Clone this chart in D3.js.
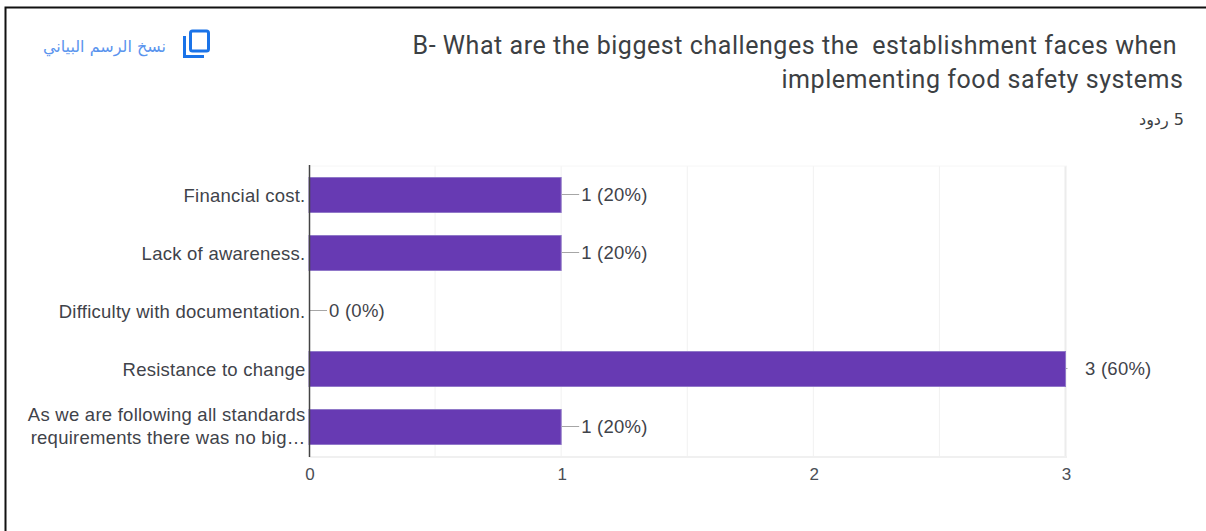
<!DOCTYPE html>
<html>
<head>
<meta charset="utf-8">
<script src="https://cdn.jsdelivr.net/npm/d3@7"></script>
<style>
  html, body { margin: 0; padding: 0; background: #fff; overflow: hidden; }
  svg { display: block; }
</style>
</head>
<body>
<div id="d3-div"></div>
<script>
var categories = [
  "Financial cost.",
  "Lack of awareness.",
  "Difficulty with documentation.",
  "Resistance to change",
  "As we are following all standards|requirements there was no big\u2026"
];
var counts = [1, 1, 0, 3, 1];
var percents = [20, 20, 0, 60, 20];
var xTicks = [0, 1, 2, 3];
var xGrid = [0.5, 1, 1.5, 2, 2.5, 3];
var titleLines = [
  "B- What are the biggest challenges the  establishment faces when",
  "implementing food safety systems"
];
var responsesText = "5 \u0631\u062F\u0648\u062F";
var copyText = "\u0646\u0633\u062E \u0627\u0644\u0631\u0633\u0645 \u0627\u0644\u0628\u064A\u0627\u0646\u064A";

var width = 1206, height = 531;
var labelFont = "Liberation Sans, Arial, sans-serif";
var titleFont = "Roboto, sans-serif";
var labelSize = 18.5, labelSpacing = 0.25;

var svg = d3.select("#d3-div").append("svg")
  .attr("width", width)
  .attr("height", height);

svg.append("rect").attr("width", width).attr("height", height).attr("fill", "#fff");

// screenshot frame, top and left only
svg.append("path")
  .attr("d", "M5.5,531V7.5H1206")
  .attr("fill", "none")
  .attr("stroke", "#111")
  .attr("stroke-width", 2);

var xScale = d3.scaleLinear().domain([0, 3]).range([309, 1065.5]);
var yScale = d3.scaleBand()
  .domain(categories)
  .range([166, 456])
  .paddingInner(0.38)
  .paddingOuter(0.19);

// grid
svg.append("g").selectAll("line")
  .data(xGrid)
  .enter()
  .append("line")
  .attr("x1", d => xScale(d))
  .attr("x2", d => xScale(d))
  .attr("y1", 166)
  .attr("y2", 457)
  .attr("stroke", d => d == 3 ? "#ececec" : "#f1f1f1")
  .attr("stroke-width", d => d == 3 ? 2 : 1);

svg.append("line")
  .attr("x1", 309.5).attr("x2", 1067)
  .attr("y1", 457).attr("y2", 457)
  .attr("stroke", "#f0f0f0").attr("stroke-width", 2);
svg.append("line")
  .attr("x1", 309.5).attr("x2", 1067)
  .attr("y1", 166).attr("y2", 166)
  .attr("stroke", "#f6f6f6");

// bars, the light edge comes from the blurred screenshot
svg.append("g").selectAll("rect")
  .data(counts)
  .enter()
  .append("rect")
  .attr("x", xScale(0))
  .attr("y", (d, i) => yScale(categories[i]) + 0.5)
  .attr("width", d => xScale(d) - xScale(0))
  .attr("height", yScale.bandwidth() - 1)
  .attr("fill", "#673ab3")
  .attr("stroke", d => d > 0 ? "#9078c8" : "none");

// leader lines and value labels
var mid = i => yScale(categories[i]) + yScale.bandwidth() / 2;

svg.append("g").selectAll("line")
  .data(counts)
  .enter()
  .append("line")
  .attr("x1", d => xScale(d) + 0.5)
  .attr("x2", d => xScale(d) + (d == 3 ? 2 : 18))
  .attr("y1", (d, i) => mid(i) - 0.5)
  .attr("y2", (d, i) => mid(i) - 0.5)
  .attr("stroke", "#a6a6a6");

svg.append("g").selectAll("text")
  .data(counts)
  .enter()
  .append("text")
  .attr("x", d => xScale(d) + (d == 3 ? 19.5 : 20))
  .attr("y", (d, i) => mid(i) + 5.5)
  .attr("font-family", labelFont)
  .attr("font-size", labelSize)
  .attr("letter-spacing", labelSpacing)
  .attr("fill", "#3f434a")
  .text((d, i) => d + " (" + percents[i] + "%)");

// category labels
svg.append("g").selectAll("text")
  .data(categories)
  .enter()
  .append("text")
  .attr("text-anchor", "end")
  .attr("font-family", labelFont)
  .attr("font-size", labelSize)
  .attr("letter-spacing", labelSpacing)
  .attr("fill", "#3f434a")
  .each(function(d, i) {
    var lines = d.split("|");
    var y0 = lines.length > 1 ? mid(i) - 6.5 : mid(i) + 6.5;
    d3.select(this).selectAll("tspan")
      .data(lines)
      .enter()
      .append("tspan")
      .attr("x", 305.5)
      .attr("y", (l, j) => y0 + j * 23)
      .text(l => l);
  });

// axes
var xAxis = d3.axisBottom(xScale).tickValues(xTicks).tickSize(0).tickPadding(0).tickFormat(d3.format("d"));
var gx = svg.append("g").attr("transform", "translate(0.5, 468)").call(xAxis);
gx.select(".domain").remove();
gx.selectAll("text")
  .attr("font-family", labelFont)
  .attr("font-size", 17)
  .attr("fill", "#4a4e55")
  .attr("dy", "0.72em");

svg.append("line")
  .attr("x1", 309.5).attr("x2", 309.5)
  .attr("y1", 165).attr("y2", 457)
  .attr("stroke", "#444").attr("stroke-width", 1.5);

// title
svg.append("g").selectAll("text")
  .data(titleLines)
  .enter()
  .append("text")
  .attr("x", (d, i) => i == 0 ? 1177 : 1183.5)
  .attr("y", (d, i) => 54 + i * 34)
  .attr("text-anchor", "end")
  .attr("font-family", titleFont)
  .attr("font-size", 25)
  .attr("letter-spacing", 0.55)
  .attr("fill", "#3c4043")
  .style("white-space", "pre")
  .text(d => d);

svg.append("text")
  .attr("x", 1184)
  .attr("y", 125)
  .attr("text-anchor", "start")
  .attr("direction", "rtl")
  .attr("font-family", "DejaVu Sans, sans-serif")
  .attr("font-size", 16)
  .attr("fill", "#3c4043")
  .text(responsesText);

// copy chart link
svg.append("text")
  .attr("x", 166)
  .attr("y", 52)
  .attr("text-anchor", "start")
  .attr("direction", "rtl")
  .attr("font-family", "DejaVu Sans, sans-serif")
  .attr("font-size", 16)
  .attr("fill", "#5a94ee")
  .text(copyText);

var icon = svg.append("g").attr("fill", "none").attr("stroke", "#1a73e8").attr("stroke-width", 3);
icon.append("rect").attr("x", 190.5).attr("y", 31).attr("width", 18).attr("height", 20).attr("rx", 2);
icon.append("path").attr("d", "M184.5,36V56.5H204");
</script>
</body>
</html>
